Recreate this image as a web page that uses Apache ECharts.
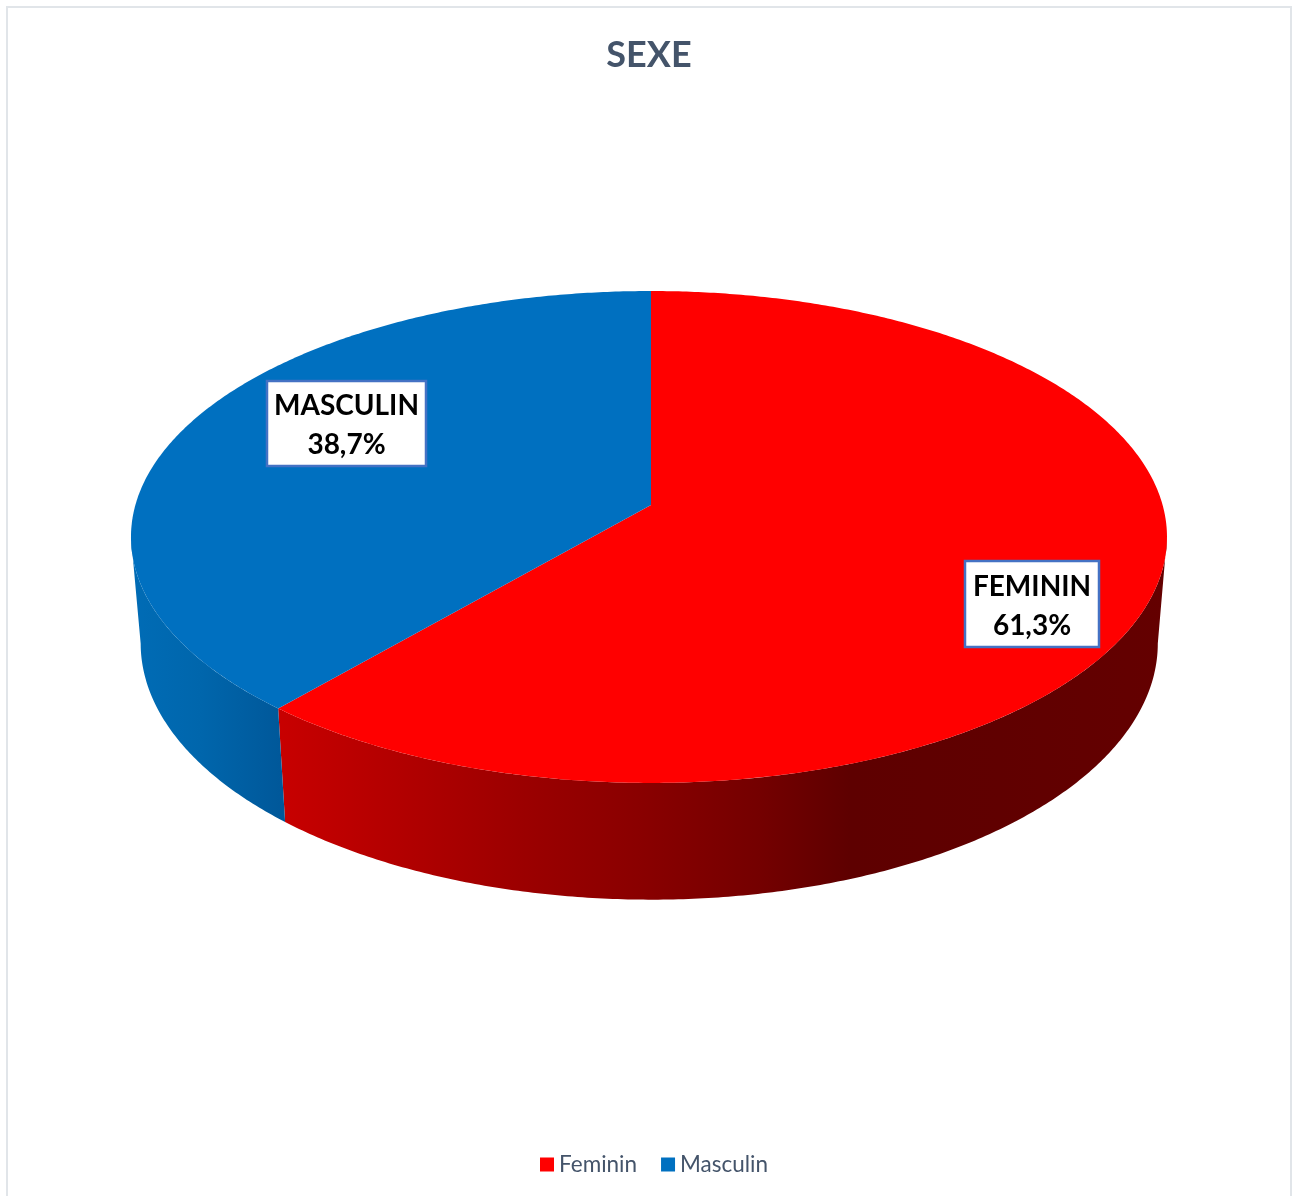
<!DOCTYPE html>
<html>
<head>
<meta charset="utf-8">
<style>html,body{margin:0;padding:0;background:#fff}#chart{width:1298px;height:1196px}</style>
<script src="https://cdn.jsdelivr.net/npm/echarts@6/dist/echarts.min.js"></script>
</head>
<body>
<div id="chart"></div>
<script>
// Survey breakdown by sex, in percent
const categories = ['Feminin', 'Masculin'];
const shares = [61.3, 38.7];
const topColors = ['#FF0000', '#0070C0'];

// Horizontal shading of each slice's outer wall: [page x, colour]
const wallShades = [
  [[278, '#C80000'], [400, '#B20000'], [520, '#9C0000'], [650, '#880000'], [760, '#740000'], [850, '#5E0000'], [1000, '#600000'], [1168, '#640000']],
  [[130, '#006CB6'], [200, '#0066AC'], [280, '#00589A']]
];

// Perspective disc: the two rims share a vanishing factor and differ in scale and centre
const perspective = 0.13;
const topRim = { cx: 651, cy: 505, left: 515.6, right: 511.6, b: 241.8 };
const bottomRim = { cx: 651, cy: 610, left: 506, right: 502.5, b: 252 };

// The wall's outline leaves the rims where the projected disc is widest
const silhouetteAngle = 97.5;

// Label boxes in page coordinates
const labelBoxes = [
  { x: 965, y: 561, w: 134, h: 86 },
  { x: 267, y: 381, w: 159, h: 85 }
];

const FONT = 'Lato, Carlito, "Open Sans", sans-serif';

// Angles run clockwise from twelve o'clock, in degrees
function project(rim, deg) {
  const t = deg * Math.PI / 180;
  const u = Math.sin(t), v = Math.cos(t);
  const w = 1 + perspective * v;
  return [rim.cx + (u < 0 ? rim.left : rim.right) * u / w, rim.cy - rim.b * v / w];
}

function arc(rim, from, to) {
  const steps = Math.max(2, Math.ceil(Math.abs(to - from) / 0.5));
  const pts = [];
  for (let i = 0; i <= steps; i++) pts.push(project(rim, from + (to - from) * i / steps));
  return pts;
}

function percentText(v) {
  return v.toFixed(1).replace('.', ',') + '%';
}

function renderSlice(index) {
  return function (params, api) {
    const total = shares.reduce((s, v) => s + v, 0);
    const before = shares.slice(0, index).reduce((s, v) => s + v, 0);
    const start = before / total * 360;
    const end = start + api.value(0) / total * 360;

    const children = [];

    // The wall is only seen on the near part of the disc
    const wallFrom = Math.max(start, silhouetteAngle);
    const wallTo = Math.min(end, 360 - silhouetteAngle);
    if (wallTo > wallFrom) {
      const shades = wallShades[index];
      const x0 = shades[0][0], x1 = shades[shades.length - 1][0];
      children.push({
        type: 'polygon',
        shape: { points: arc(topRim, wallFrom, wallTo).concat(arc(bottomRim, wallTo, wallFrom)) },
        style: {
          fill: new echarts.graphic.LinearGradient(x0, 0, x1, 0,
            shades.map(s => ({ offset: (s[0] - x0) / (x1 - x0), color: s[1] })), true)
        }
      });
    }

    children.push({
      type: 'polygon',
      shape: { points: [[topRim.cx, topRim.cy]].concat(arc(topRim, start, end)) },
      style: { fill: topColors[index] }
    });

    const box = labelBoxes[index];
    children.push({
      type: 'rect',
      shape: { x: box.x, y: box.y, width: box.w, height: box.h },
      style: { fill: '#FFFFFF', stroke: '#4472C4', lineWidth: 2.5 }
    });
    children.push({
      type: 'text',
      style: {
        x: box.x + box.w / 2,
        y: box.y + box.h / 2 + 2,
        text: categories[index].toUpperCase() + '\n' + percentText(api.value(0)),
        fill: '#000000',
        font: 'bold 28px ' + FONT,
        lineHeight: 39,
        align: 'center',
        verticalAlign: 'middle'
      }
    });

    return { type: 'group', children: children };
  };
}

const chart = echarts.init(document.getElementById('chart'), null, { renderer: 'canvas' });
chart.setOption({
  animation: false,
  backgroundColor: '#FFFFFF',
  title: {
    text: 'SEXE',
    left: 'center',
    top: 32,
    textStyle: { color: '#44546A', fontFamily: FONT, fontWeight: 'bold', fontSize: 36 }
  },
  legend: {
    data: categories,
    left: 535,
    top: 1148,
    itemWidth: 14,
    itemHeight: 14,
    itemGap: 24,
    icon: 'rect',
    selectedMode: false,
    textStyle: { color: '#44546A', fontFamily: FONT, fontSize: 22.5 }
  },
  graphic: [{
    type: 'rect',
    z: -1,
    shape: { x: 7, y: 7, width: 1284, height: 1300 },
    style: { fill: 'none', stroke: '#E1E5E9', lineWidth: 2 }
  }],
  series: categories.map((name, i) => ({
    type: 'custom',
    name: name,
    coordinateSystem: 'none',
    itemStyle: { color: topColors[i] },
    data: [shares[i]],
    renderItem: renderSlice(i)
  }))
});
</script>
</body>
</html>
